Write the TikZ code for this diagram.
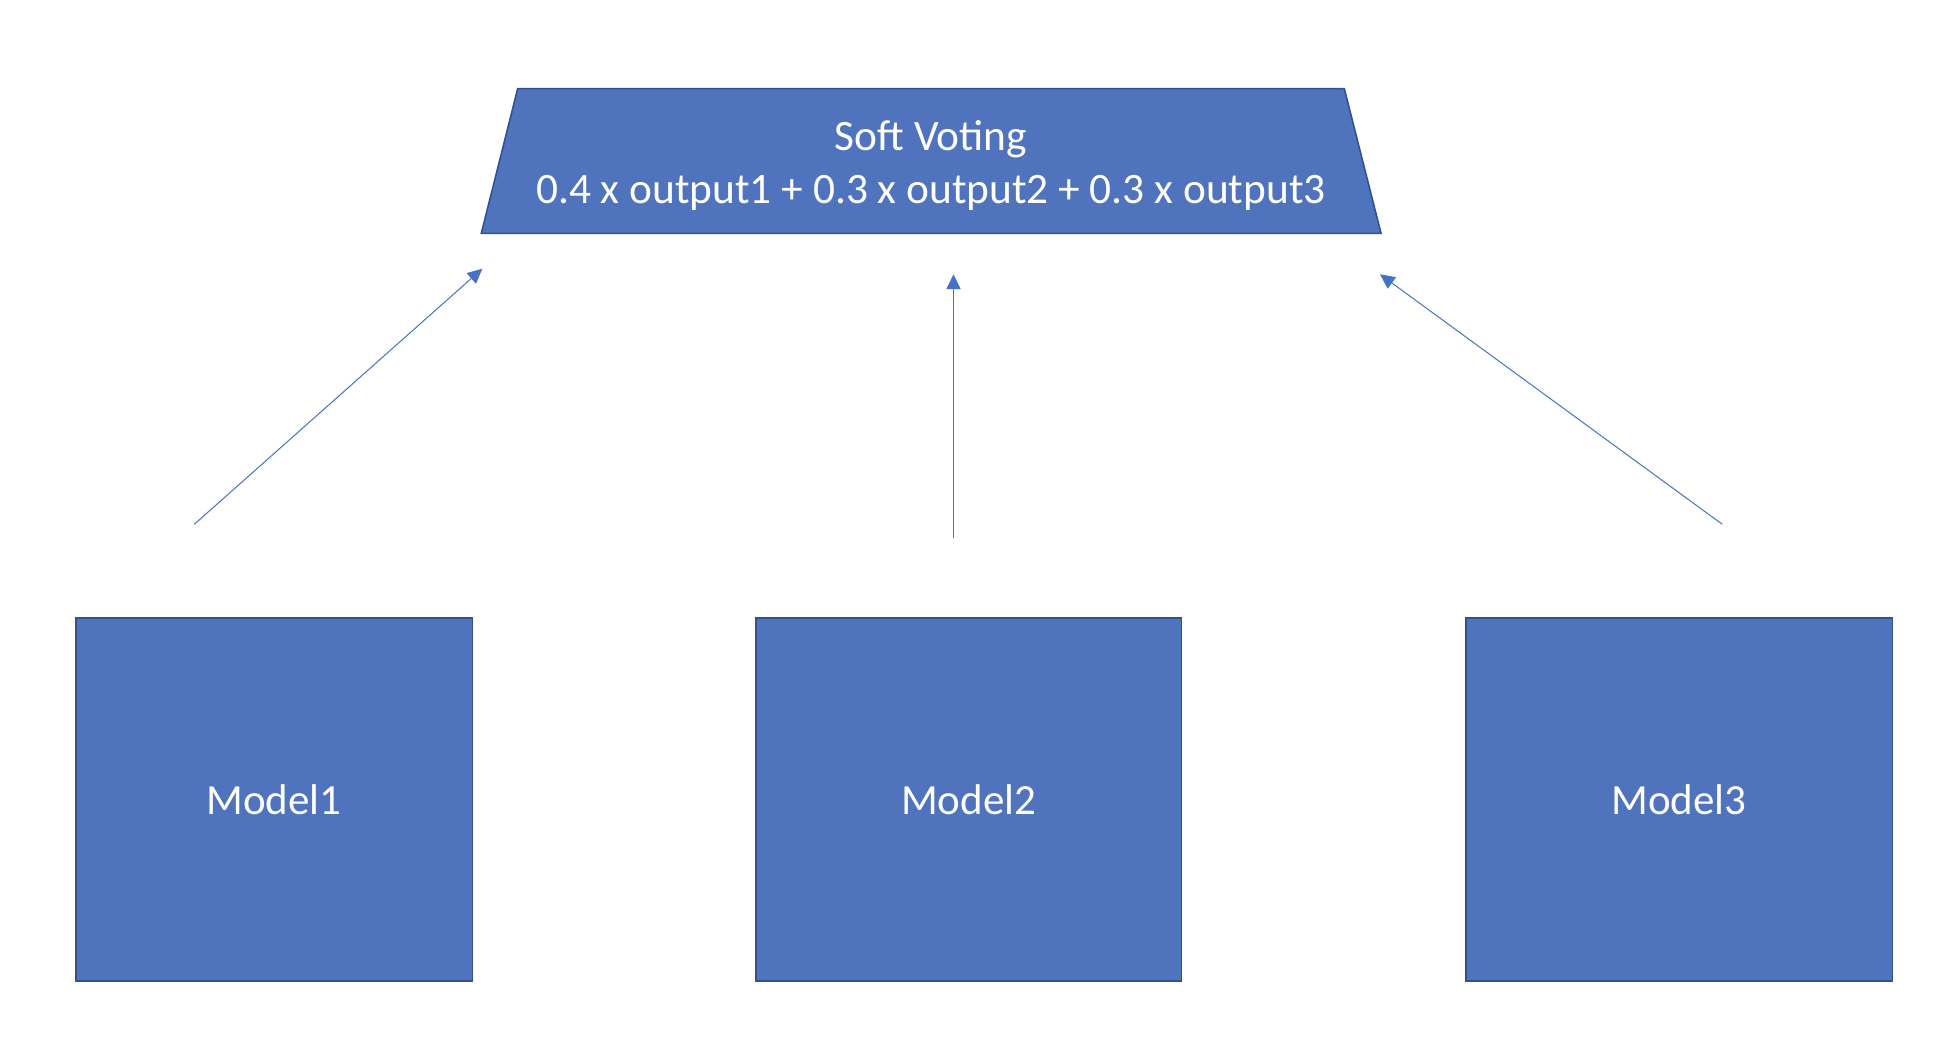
\documentclass[tikz,border=0pt]{standalone}
\usepackage{fontspec}
\setmainfont{Carlito}
\usetikzlibrary{arrows.meta}
\definecolor{boxfill}{RGB}{80,115,190}
\definecolor{boxline}{RGB}{50,82,143}
\definecolor{arrowc}{RGB}{68,114,196}
\begin{document}
\begin{tikzpicture}[x=1pt,y=-1pt,
  shapebox/.style={draw=boxline, fill=boxfill, line width=1.6pt},
  modelbox/.style={shapebox, minimum height=363pt, inner sep=0pt, text=white, font=\fontsize{43}{52}\selectfont},
  svtext/.style={text=white, font=\fontsize{43.4}{53}\selectfont, inner sep=0pt, anchor=base},
  conn/.style={draw=arrowc, line width=1pt, -{Triangle[length=14.7pt,width=14pt]}}]
\useasboundingbox (0,0) rectangle (1938,1046);
% voting trapezoid
\coordinate (tl) at (517.7,88.7);
\coordinate (tr) at (1344.3,88.7);
\coordinate (br) at (1381,233.3);
\coordinate (bl) at (481.3,233.3);
\draw[shapebox] (tl) -- (tr) -- (br) -- (bl) -- cycle;
\node[svtext] (sv1) at (931,150) {Soft Voting};
\node[svtext] (sv2) at (931,203.3) {0.4 x output1 + 0.3 x output2 + 0.3 x output3};
% models
\node[modelbox, minimum width=396.6pt] (m1) at (274,799.5) {Model1};
\node[modelbox, minimum width=425.5pt] (m2) at (968.7,799.5) {Model2};
\node[modelbox, minimum width=426.6pt] (m3) at (1679,799.5) {Model3};
% arrows
\coordinate (a1s) at (194.3,524.3);
\coordinate (a1e) at (482.3,268.7);
\coordinate (a2s) at (953.5,538.3);
\coordinate (a2e) at (953.5,274.3);
\coordinate (a3s) at (1722.3,524.3);
\coordinate (a3e) at (1380,274.3);
\draw[conn] (a1s) -- (a1e);
\draw[conn] (a2s) -- (a2e);
\draw[conn] (a3s) -- (a3e);
\end{tikzpicture}
\end{document}
